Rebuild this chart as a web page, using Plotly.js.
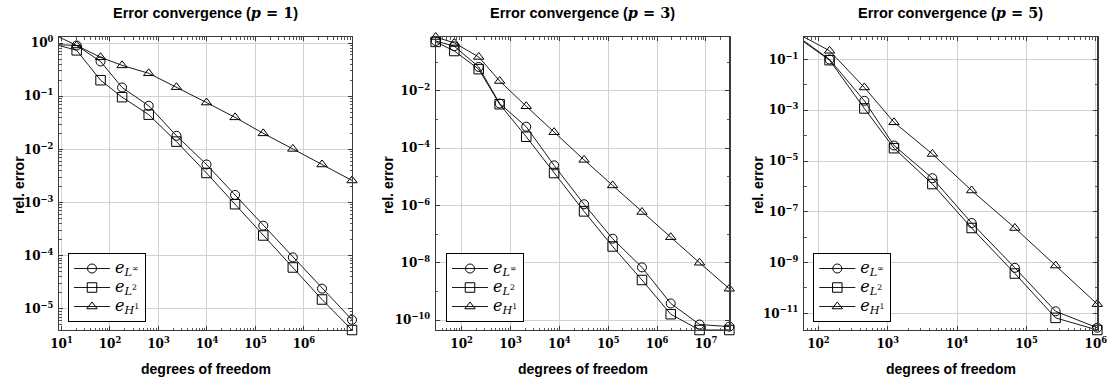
<!DOCTYPE html>
<html>
<head>
<meta charset="utf-8">
<script src="https://cdn.plot.ly/plotly-3.0.1.min.js"></script>
<style>html,body{margin:0;padding:0;background:#fff;}#chart{width:1109px;height:383px;}</style>
</head>
<body>
<div id="chart"></div>
<script>
// ---------- data ----------
const dofP1  = [8.9, 20.6, 64, 178, 630, 2350, 9800, 38000, 145000, 590000, 2360000, 9800000];
const linfP1 = [1.30, 0.90, 0.45, 0.146, 0.066, 0.018, 0.0052, 1.39e-3, 3.67e-4, 9.3e-5, 2.4e-5, 6.2e-6];
const l2P1   = [0.90, 0.73, 0.20, 0.096, 0.045, 0.014, 3.6e-3, 9.3e-4, 2.4e-4, 6.0e-5, 1.5e-5, 4.0e-6];
const h1P1   = [0.93, 0.90, 0.54, 0.38, 0.27, 0.148, 0.076, 0.040, 0.020, 0.0102, 5.2e-3, 2.6e-3];

const dofP3  = [29.5, 71, 224, 600, 2100, 7800, 32000, 123000, 490000, 1.9e6, 7.4e6, 3.0e7];
const linfP3 = [0.55, 0.36, 0.068, 3.6e-3, 5.6e-4, 2.5e-5, 1.1e-6, 6.9e-8, 6.9e-9, 3.8e-10, 7.0e-11, 5.9e-11];
const l2P3   = [0.51, 0.245, 0.057, 3.4e-3, 2.5e-4, 1.35e-5, 6.2e-7, 3.7e-8, 2.5e-9, 1.6e-10, 4.5e-11, 4.5e-11];
const h1P3   = [0.755, 0.47, 0.152, 0.022, 2.9e-3, 3.6e-4, 3.9e-5, 5.0e-6, 5.9e-7, 7.8e-8, 1.0e-8, 1.24e-9];

const dofP5  = [62, 145, 460, 1230, 4400, 16200, 68000, 263000, 1.05e6];
const linfP5 = [0.54, 0.10, 2.36e-3, 4.1e-5, 2.1e-6, 3.6e-8, 6.2e-10, 1.2e-11, 2.7e-12];
const l2P5   = [0.49, 0.094, 1.18e-3, 3.2e-5, 1.24e-6, 2.3e-8, 3.7e-10, 6.6e-12, 2.2e-12];
const h1P5   = [0.77, 0.22, 7.9e-3, 3.35e-4, 1.9e-5, 6.9e-7, 2.3e-8, 7.6e-10, 2.3e-11];

// tick exponents (labels)
const xExpP1 = [1, 2, 3, 4, 5, 6];
const yExpP1 = [0, -1, -2, -3, -4, -5];
const xExpP3 = [2, 3, 4, 5, 6, 7];
const yExpP3 = [-2, -4, -6, -8, -10];
const xExpP5 = [2, 3, 4, 5, 6];
const yExpP5 = [-1, -3, -5, -7, -9, -11];

const seriesNames = [
  '<span style="font-size:16px"><i>e</i><sub><i>L</i><sup>∞</sup></sub></span>',
  '<span style="font-size:16px"><i>e</i><sub><i>L</i><sup>2</sup></sub></span>',
  '<span style="font-size:16px"><i>e</i><sub><i>H</i><sup>1</sup></sub></span>'
];
const panelTitles = ['Error convergence (<span style="font-family:DejaVu Serif"><i>p</i> = 1</span>)',
                     'Error convergence (<span style="font-family:DejaVu Serif"><i>p</i> = 3</span>)',
                     'Error convergence (<span style="font-family:DejaVu Serif"><i>p</i> = 5</span>)'];
const xLabel = 'degrees of freedom';
const yLabel = 'rel. error';

// ---------- layout helpers ----------
const W = 1109, H = 383;
const SERIF = 'DejaVu Serif';
const SANS = 'Liberation Sans, Arial, sans-serif';
const symbols = ['circle-open', 'square-open', 'triangle-up-open'];
const msizes = [9, 9.5, 9];

function fmtExp(k) { return '10<sup>' + (k < 0 ? '−' + (-k) : k) + '</sup>'; }

function minorVals(lo, hi, step) {
  const out = [];
  for (let d = Math.floor(lo) - 1; d <= Math.ceil(hi) + 1; d++) {
    if (step === 1) {
      for (let m = 2; m <= 9; m++) out.push(m * Math.pow(10, d));
    } else {
      out.push(Math.pow(10, d));
    }
  }
  return out;
}

function axisBase() {
  return {
    type: 'log', showline: true, linecolor: '#3a3a3a', linewidth: 1.2, mirror: 'ticks',
    ticks: 'inside', ticklen: 4, tickcolor: '#3a3a3a', tickwidth: 1,
    showgrid: true, gridcolor: '#d2d2d2', gridwidth: 1, zeroline: false,
    tickfont: {family: SERIF, size: 12, color: '#000', weight: 'bold'},
    ticklabelstandoff: 2, fixedrange: true
  };
}

const panels = [
  {dof: dofP1, s: [linfP1, l2P1, h1P1], xe: xExpP1, ye: yExpP1, ystep: 1, px: [59, 352]},
  {dof: dofP3, s: [linfP3, l2P3, h1P3], xe: xExpP3, ye: yExpP3, ystep: 2, px: [435.7, 729.3]},
  {dof: dofP5, s: [linfP5, l2P5, h1P5], xe: xExpP5, ye: yExpP5, ystep: 2, px: [804, 1097.3]}
];
const yTop = 37, yBot = 330;
const legendLeft = [68, 446, 813.3];
const yTitleX = [19, 388, 758];

const data = [];
const layout = {
  width: W, height: H, margin: {l: 0, r: 0, t: 0, b: 0},
  paper_bgcolor: '#fff', plot_bgcolor: '#fff', showlegend: true,
  annotations: []
};

panels.forEach((p, i) => {
  const n = i === 0 ? '' : String(i + 1);
  const xa = 'xaxis' + n, ya = 'yaxis' + n;
  const allY = p.s.flat();
  const xr = [Math.log10(Math.min(...p.dof)), Math.log10(Math.max(...p.dof))];
  const yr = [Math.log10(Math.min(...allY)), Math.log10(Math.max(...allY))];

  layout[xa] = Object.assign(axisBase(), {
    domain: [p.px[0] / W, p.px[1] / W], range: xr, anchor: 'y' + n,
    tickmode: 'array', tickvals: p.xe.map(k => Math.pow(10, k)), ticktext: p.xe.map(fmtExp),
    minor: {tickmode: 'array', tickvals: minorVals(xr[0], xr[1], 1), ticks: 'inside', ticklen: 2.5, tickcolor: '#555', showgrid: false}
  });
  layout[ya] = Object.assign(axisBase(), {
    domain: [1 - yBot / H, 1 - yTop / H], range: yr, anchor: 'x' + n,
    tickmode: 'array', tickvals: p.ye.map(k => Math.pow(10, k)), ticktext: p.ye.map(fmtExp),
    minor: {tickmode: 'array', tickvals: minorVals(yr[0], yr[1], p.ystep), ticks: 'inside', ticklen: 2.5, tickcolor: '#555', showgrid: false}
  });

  const lg = i === 0 ? 'legend' : 'legend' + (i + 1);
  layout[lg] = {
    x: legendLeft[i] / W, y: 1 - 322 / H, xanchor: 'left', yanchor: 'bottom',
    bgcolor: '#fff', bordercolor: '#000', borderwidth: 1,
    font: {family: SERIF, size: 11, color: '#000'},
    itemwidth: 36, tracegroupgap: 0, traceorder: 'normal'
  };

  p.s.forEach((ys, j) => {
    data.push({
      type: 'scatter', mode: 'lines+markers', x: p.dof, y: ys,
      xaxis: 'x' + n, yaxis: 'y' + n, name: seriesNames[j], legend: lg,
      line: {color: '#000', width: 0.9},
      marker: {symbol: symbols[j], size: msizes[j], color: '#000', line: {width: 1, color: '#000'}},
      cliponaxis: false, hoverinfo: 'skip'
    });
  });

  const cx = (p.px[0] + p.px[1]) / 2 / W;
  layout.annotations.push({
    xref: 'paper', yref: 'paper', x: cx, y: 1 - 12.5 / H, xanchor: 'center', yanchor: 'middle',
    text: '<b>' + panelTitles[i] + '</b>', showarrow: false, font: {family: SANS, size: 14.5, color: '#000'}
  });
  layout.annotations.push({
    xref: 'paper', yref: 'paper', x: cx, y: 1 - 369 / H, xanchor: 'center', yanchor: 'middle',
    text: '<b>' + xLabel + '</b>', showarrow: false, font: {family: SANS, size: 14, color: '#000'}
  });
  layout.annotations.push({
    xref: 'paper', yref: 'paper', x: yTitleX[i] / W, y: 1 - 185 / H, xanchor: 'center', yanchor: 'middle',
    text: '<b>' + yLabel + '</b>', textangle: -90, showarrow: false, font: {family: SANS, size: 14, color: '#000'}
  });
});

Plotly.newPlot('chart', data, layout, {staticPlot: true, displayModeBar: false});
</script>
</body>
</html>
